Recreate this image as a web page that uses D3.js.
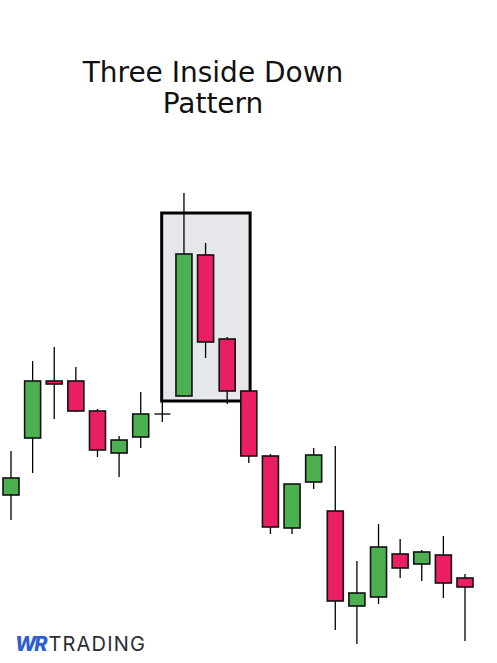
<!DOCTYPE html>
<html>
<head>
<meta charset="utf-8">
<script src="https://cdn.jsdelivr.net/npm/d3@7"></script>
<style>
  body { margin: 0; background: #fff; }
  svg { display: block; }
</style>
</head>
<body>
<div id="chart"></div>
<script>
// candle data (price units)
var opens  = [119.5, 125.2, 130.9, 130.9, 127.9, 123.7, 125.3, 127.6, 129.4, 143.5, 135.1,
              129.9, 123.4, 116.2, 120.8, 117.9, 108.4, 109.3, 113.6, 112.6, 113.5, 111.2];
var closes = [121.2, 130.9, 130.6, 127.9, 124.0, 125.0, 127.6, 127.6, 143.6, 134.8, 129.9,
              123.4, 116.3, 120.6, 123.5, 108.9, 109.7, 114.3, 112.2, 113.8, 110.7, 110.3];
var highs  = [123.9, 132.9, 134.3, 132.3, 128.1, 125.4, 129.8, 128.8, 149.7, 144.7, 135.3,
              129.9, 123.6, 120.6, 124.2, 124.4, 112.9, 116.6, 115.1, 114.0, 115.4, 111.6];
var lows   = [117.0, 121.7, 127.1, 127.8, 123.3, 121.3, 124.2, 126.8, 129.4, 133.2, 128.6,
              122.7, 115.6, 115.6, 120.1, 106.0, 104.6, 108.6, 111.2, 110.9, 109.2, 104.9];

// highlighted pattern (candle indexes) and box price range
var patternStart = 8;
var patternEnd = 10;
var boxTop = 147.7;
var boxBottom = 128.9;

var titleLines = ["Three Inside Down", "Pattern"];

var width = 497, height = 663;
var bodyWidth = 16;

var svg = d3.select("#chart").append("svg")
  .attr("width", width)
  .attr("height", height);

var x = d3.scaleLinear().domain([0, opens.length - 1]).range([11, 465]);
var y = d3.scaleLinear().domain([104, 150]).range([650, 190]);

var candles = opens.map(function(o, i) {
  return { i: i, open: o, close: closes[i], high: highs[i], low: lows[i] };
});

// pattern box
svg.append("rect")
  .attr("x", x(patternStart - 1.03))
  .attr("y", y(boxTop))
  .attr("width", x(patternEnd + 1.06) - x(patternStart - 1.03))
  .attr("height", y(boxBottom) - y(boxTop))
  .attr("fill", "#e6e7ea")
  .attr("stroke", "#000")
  .attr("stroke-width", 3);

// wicks
svg.selectAll(".wick")
  .data(candles)
  .enter()
  .append("line")
  .classed("wick", true)
  .attr("x1", d => x(d.i))
  .attr("x2", d => x(d.i))
  .attr("y1", d => y(d.high))
  .attr("y2", d => y(d.low))
  .attr("stroke", "#000")
  .attr("stroke-width", 1.3);

// bodies
svg.selectAll(".body")
  .data(candles.filter(d => d.open !== d.close))
  .enter()
  .append("rect")
  .classed("body", true)
  .attr("x", d => x(d.i) - bodyWidth / 2)
  .attr("y", d => y(Math.max(d.open, d.close)))
  .attr("width", bodyWidth)
  .attr("height", d => Math.max(2, Math.abs(y(d.open) - y(d.close))))
  .attr("fill", d => d.close > d.open ? "#4caf50" : "#e91e63")
  .attr("stroke", "#111")
  .attr("stroke-width", 1.6);

// doji
svg.selectAll(".doji")
  .data(candles.filter(d => d.open === d.close))
  .enter()
  .append("line")
  .classed("doji", true)
  .attr("x1", d => x(d.i) - 8)
  .attr("x2", d => x(d.i) + 8)
  .attr("y1", d => y(d.open))
  .attr("y2", d => y(d.open))
  .attr("stroke", "#000")
  .attr("stroke-width", 1.3);

// title
svg.selectAll(".title")
  .data(titleLines)
  .enter()
  .append("text")
  .classed("title", true)
  .attr("x", 213)
  .attr("y", (d, i) => 82 + i * 31)
  .attr("text-anchor", "middle")
  .style("font-family", "'DejaVu Sans', sans-serif")
  .style("font-size", "28px")
  .attr("fill", "#111")
  .text(d => d);

// logo
var logo = svg.append("text")
  .attr("x", 15)
  .attr("y", 651)
  .style("font-family", "Inter, Roboto, sans-serif")
  .style("font-size", "20px");
logo.append("tspan")
  .attr("font-weight", 800)
  .attr("font-style", "italic")
  .attr("fill", "#2f5fd0")
  .attr("letter-spacing", -2)
  .text("WR");
logo.append("tspan")
  .attr("dx", 3)
  .attr("fill", "#2b2d33")
  .attr("letter-spacing", 1.2)
  .text("TRADING");
</script>
</body>
</html>
